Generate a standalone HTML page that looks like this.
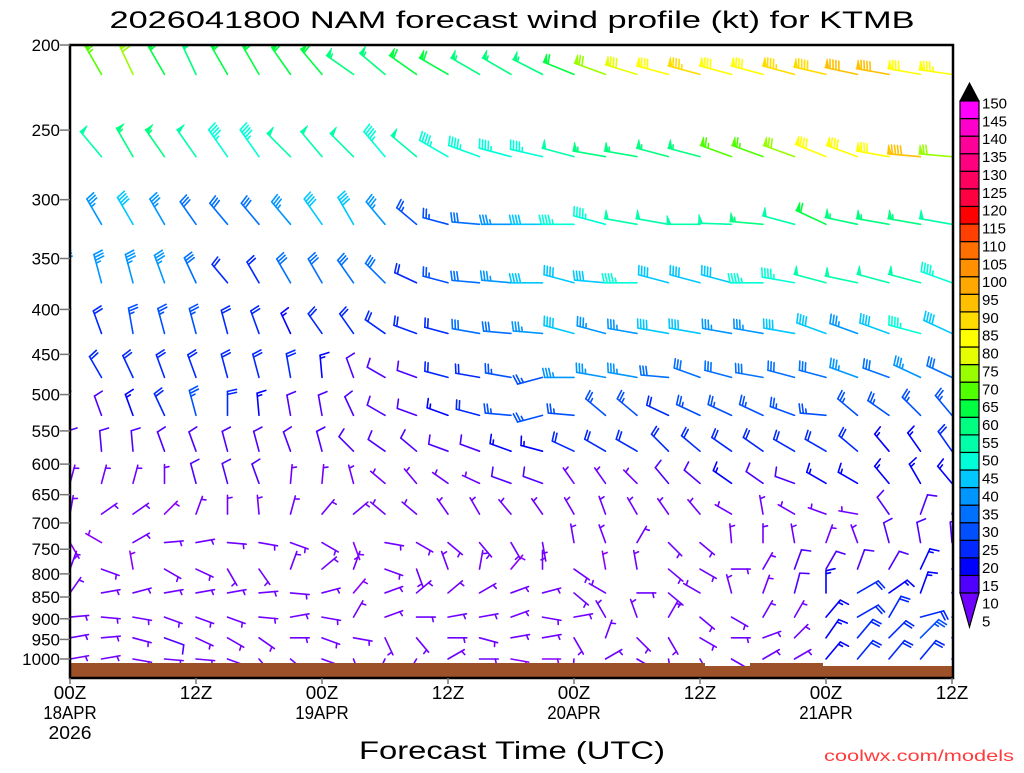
<!DOCTYPE html>
<html><head><meta charset="utf-8"><style>
html,body{margin:0;padding:0;background:#fff;}
svg text{font-family:"Liberation Sans",sans-serif;}
</style></head><body>
<svg id="chart" width="1024" height="768" viewBox="0 0 1024 768" xmlns="http://www.w3.org/2000/svg">
<defs><clipPath id="plotclip"><rect x="70" y="45" width="883" height="633"/></clipPath></defs>
<rect x="0" y="0" width="1024" height="768" fill="#fff"/>
<text x="512" y="28" text-anchor="middle" font-size="24" textLength="805" lengthAdjust="spacingAndGlyphs">2026041800 NAM forecast wind profile (kt) for KTMB</text>
<g id="barbs" clip-path="url(#plotclip)"></g>
<g id="ground">
<rect x="70" y="663" width="635" height="15" fill="#9c5128"/>
<rect x="705" y="666" width="45" height="12" fill="#9c5128"/>
<rect x="750" y="663" width="73" height="15" fill="#9c5128"/>
<rect x="823" y="666" width="130" height="12" fill="#9c5128"/>
</g>
<rect x="70" y="45" width="883" height="633" fill="none" stroke="#000" stroke-width="2.5"/>
<g id="yaxis"></g>
<g id="xaxis"></g>
<g id="cbar"></g>
<text x="512" y="759" text-anchor="middle" font-size="25" textLength="306" lengthAdjust="spacingAndGlyphs">Forecast Time (UTC)</text>
<text x="1014" y="761" text-anchor="end" font-size="16" fill="#ff3b3b" textLength="190" lengthAdjust="spacingAndGlyphs">coolwx.com/models</text>
</svg>
<script>
const levels = [216,268,320,373,426,478,528,580,631,684,737,790,841,896,946,1000];
const hours = [0,3,6,9,12,15,18,21,24,27,30,33,36,39,42,45,48,51,54,57,60,63,66,69,72,75,78,81,84];
const pressureTicks = [200,250,300,350,400,450,500,550,600,650,700,750,800,850,900,950,1000];
const timeTicks = [0,12,24,36,48,60,72,84];
const timeLabels = [["00Z","18APR","2026"],["12Z"],["00Z","19APR"],["12Z"],["00Z","20APR"],["12Z"],["00Z","21APR"],["12Z"]];
const cbarLabels = [5,10,15,20,25,30,35,40,45,50,55,60,65,70,75,80,85,90,95,100,105,110,115,120,125,130,135,140,145,150];
const cbarColors = ["#8a00ff","#7000ff","#5000ff","#0000ff","#0028ff","#0050ff","#0070ff","#0096ff","#00c8ff","#00ffd8","#00ffa8","#00ff80","#00ff40","#50ff00","#99ff00","#e6ff00","#ffff00","#ffdc00","#ffc000","#ffa800","#ff9000","#ff7000","#ff4000","#ff0000","#ff0040","#ff0060","#ff0080","#ff0099","#ff00cc","#ff00ff","#000000"];

const dirs = [
[330,330,335,330,335,330,330,325,320,305,310,305,300,300,300,297,292,290,287,285,285,285,285,285,283,282,280,280,278],
[320,320,330,325,325,325,325,315,320,315,320,310,300,290,285,283,285,280,280,285,285,290,290,290,292,290,280,275,275],
[330,330,330,330,325,320,320,320,325,330,320,310,285,275,270,270,270,285,280,280,270,272,275,285,295,282,280,280,280],
[345,345,345,340,335,320,330,330,330,325,315,295,285,275,275,270,285,275,270,285,285,285,270,280,285,282,285,285,290],
[340,340,350,345,345,345,340,335,325,325,305,290,285,280,275,275,285,285,280,280,280,280,280,280,290,290,290,285,295],
[330,330,335,340,340,345,345,350,355,340,300,290,285,280,280,255,270,280,280,275,290,285,280,285,285,290,290,295,295],
[340,340,340,335,345,0,355,350,350,335,300,290,290,285,275,255,275,310,310,295,295,295,295,290,275,310,305,315,320],
[355,355,355,340,340,345,345,340,345,315,305,310,290,290,290,285,295,300,300,315,310,305,305,300,300,310,320,325,325],
[15,15,15,0,345,345,340,5,5,345,310,320,305,295,290,290,325,325,315,320,310,305,305,290,300,300,320,330,320],
[10,55,55,45,20,0,355,15,40,50,310,310,325,330,320,325,330,340,330,325,320,300,350,300,290,280,325,20,15],
[150,300,60,85,80,95,100,110,120,160,100,120,130,140,150,170,350,340,30,135,130,355,0,350,20,340,345,350,355],
[20,110,350,120,115,150,145,20,50,20,110,160,340,10,40,0,125,350,350,130,120,90,30,20,30,20,30,25,30],
[35,80,75,80,80,80,85,95,75,40,70,50,50,60,70,75,130,300,90,130,300,345,20,15,0,60,55,20,30],
[85,95,100,110,110,110,95,80,100,30,70,90,80,80,70,100,80,330,340,30,130,120,30,30,40,60,30,75,70],
[80,85,105,110,115,120,125,90,110,100,155,140,90,105,80,80,150,20,135,150,120,90,70,45,35,40,45,45,55],
[80,80,100,95,95,110,140,130,110,160,205,210,60,90,100,90,185,60,120,170,150,120,60,60,40,40,40,40,50]
];
const speeds = [
[65,65,70,60,57,60,62,60,60,55,57,62,62,57,57,55,62,70,78,80,85,80,80,85,88,90,90,82,83],
[50,50,55,55,50,45,45,50,50,50,45,50,45,45,45,45,50,55,55,55,55,65,65,70,80,80,80,90,70],
[35,35,40,35,30,30,30,35,40,40,35,25,25,30,35,40,45,45,50,50,50,50,55,50,60,55,55,55,52],
[35,35,35,35,30,20,20,30,30,30,30,20,25,30,35,40,40,40,45,40,40,40,45,45,50,50,50,50,45],
[20,20,25,25,25,20,20,15,20,20,20,20,20,30,30,35,40,35,35,40,40,35,35,40,40,35,40,45,40],
[20,20,20,20,20,20,20,20,15,10,10,10,20,20,25,25,35,35,35,30,30,30,30,30,30,35,30,35,30],
[10,10,15,20,25,20,15,10,10,10,10,10,15,20,25,25,25,25,25,20,25,25,25,25,25,25,25,25,25],
[10,10,10,10,10,10,10,10,10,10,10,10,10,10,15,15,20,20,20,20,20,20,20,20,20,20,15,15,20],
[5,5,5,5,10,10,10,5,5,5,5,5,5,5,10,10,5,5,5,10,10,15,10,10,15,15,15,15,15],
[5,5,5,3,5,5,5,5,5,5,5,5,5,5,5,5,5,5,5,5,5,5,5,5,5,5,10,10,5],
[3,3,5,5,5,5,5,5,5,3,5,5,5,5,5,5,5,5,5,5,5,5,5,5,5,5,10,10,10],
[5,5,3,5,5,5,5,5,5,5,5,5,5,5,3,5,5,3,5,5,5,5,5,10,10,10,10,15,10],
[5,5,5,5,5,5,5,5,5,3,5,5,5,5,5,5,5,5,5,5,5,5,5,10,15,20,15,15,15],
[5,5,5,5,5,5,5,5,5,5,5,5,5,5,5,5,5,5,5,5,5,5,5,5,15,20,20,20,20],
[5,5,5,10,5,5,5,5,5,5,5,5,5,5,5,5,5,5,5,5,5,5,5,5,15,20,20,25,20],
[5,5,5,5,5,5,5,5,5,5,5,5,5,5,3,3,5,5,5,5,5,5,5,5,15,20,20,20,20]
];

const NS = "http://www.w3.org/2000/svg";
function xT(h){ return 70 + h * 10.5; }
function yP(p){ return 45 + 381.5 * Math.log(p / 200); }
function colorFor(s){ let i = Math.floor(s / 5); if (i > 30) i = 30; if (i < 0) i = 0; return cbarColors[i]; }
function mk(tag, attrs, parent){ const e = document.createElementNS(NS, tag); for (const k in attrs) e.setAttribute(k, attrs[k]); parent.appendChild(e); return e; }

const barbG = document.getElementById('barbs');
for (let r = 0; r < levels.length; r++) {
  for (let c = 0; c < hours.length; c++) {
    const spd = speeds[r][c], dir = dirs[r][c];
    const sx = xT(hours[c]), sy = yP(levels[r]);
    const th = dir * Math.PI / 180;
    const ux = Math.sin(th), uy = -Math.cos(th);
    const nx = -uy, ny = ux;
    const L = Math.min(33, 17 + 0.35 * spd);
    const col = colorFor(spd);
    const g = mk('g', {stroke: col, fill: col, 'stroke-width': 1.6, 'stroke-linecap': 'round'}, barbG);
    
    
    const tx = sx + ux * L, ty = sy + uy * L;
    mk('line', {x1: sx, y1: sy, x2: tx, y2: ty}, g);
    let rem = Math.round(spd / 5) * 5;
    let d = 0;
    while (rem >= 50) {
      const px = tx - ux * d, py = ty - uy * d;
      mk('polygon', {points: `${px},${py} ${px + nx * 9},${py + ny * 9} ${px - ux * 4},${py - uy * 4}`, 'stroke-width': 0.8}, g);
      d += 5; rem -= 50;
    }
    while (rem >= 10) {
      const px = tx - ux * d, py = ty - uy * d;
      mk('line', {x1: px, y1: py, x2: px + nx * 9 + ux * 2, y2: py + ny * 9 + uy * 2}, g);
      d += 3; rem -= 10;
    }
    if (rem >= 5) {
      if (d === 0) d = 3;
      const px = tx - ux * d, py = ty - uy * d;
      mk('line', {x1: px, y1: py, x2: px + nx * 4.5 + ux * 1, y2: py + ny * 4.5 + uy * 1}, g);
    }
  }
}

const yAx = document.getElementById('yaxis');
pressureTicks.forEach(p => {
  const y = yP(p);
  const t = mk('line', {x1: 60, y1: y, x2: 70, y2: y, stroke: '#777', 'stroke-width': 1.5}, yAx);
  
  
  const tx = mk('text', {x: 60, y: y + 6, 'text-anchor': 'end', 'font-size': 17}, yAx);
  
  
  tx.textContent = String(p);
});

const xAx = document.getElementById('xaxis');
timeTicks.forEach((h, i) => {
  const x = xT(h);
  const t = mk('line', {x1: x, y1: 678, x2: x, y2: 684, stroke: '#777', 'stroke-width': 1.5}, xAx);
  
  
  timeLabels[i].forEach((s, j) => {
    const tx = mk('text', {x: x, y: 699 + j * 20, 'text-anchor': 'middle', 'font-size': 18, textLength: s.length * 10.5 + 1, lengthAdjust: 'spacingAndGlyphs'}, xAx);
    
    
    tx.textContent = s;
  });
});

const cb = document.getElementById('cbar');
const cbTop = 101, cbBot = 593, cbX = 960, cbW = 19;
const nBox = 28;
const bh = (cbBot - cbTop) / nBox;
for (let i = 0; i < nBox; i++) {
  const y = cbBot - (i + 1) * bh;
  const r = mk('rect', {x: cbX, y: y, width: cbW, height: bh, fill: cbarColors[i + 2], stroke: '#000', 'stroke-width': 1.2}, cb);
  
  
}
const tt = mk('polygon', {points: `${cbX},${cbTop} ${cbX + cbW},${cbTop} ${cbX + cbW / 2},83`, fill: '#000', stroke: '#000'}, cb);


const bt = mk('polygon', {points: `${cbX},${cbBot} ${cbX + cbW},${cbBot} ${cbX + cbW / 2},627`, fill: cbarColors[1], stroke: '#000', 'stroke-width': 1.2}, cb);


const lblStep = (621 - 103) / (cbarLabels.length - 1);
cbarLabels.forEach((v, i) => {
  const t = mk('text', {x: 982, y: 621 - i * lblStep + 5.5, 'font-size': 15}, cb);
  
  
  t.textContent = String(v);
});
</script>
</body></html>
